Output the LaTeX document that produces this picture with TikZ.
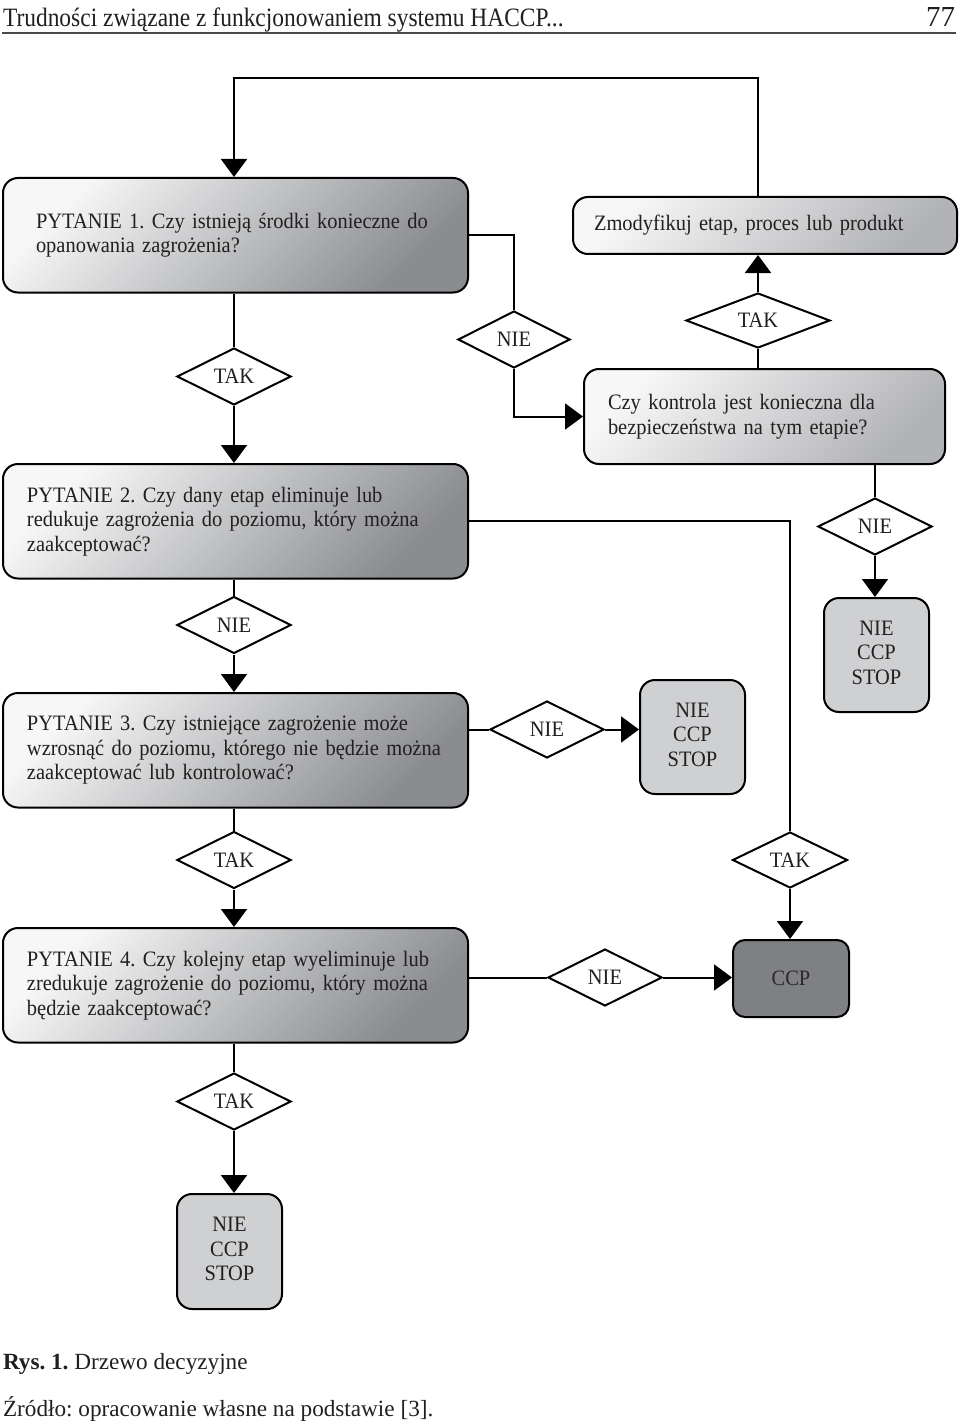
\documentclass[tikz,border=0pt]{standalone}
\usepackage{fontspec}
\setmainfont{Liberation Serif}
\newfontfamily\boxfont[FakeStretch=0.93]{Liberation Serif}
\newfontfamily\hdrfont[FakeStretch=0.885]{Liberation Serif}
\usetikzlibrary{shapes.geometric,arrows.meta}
\definecolor{plight}{HTML}{F7F7F7}
\definecolor{pdark}{HTML}{8A8C90}
\definecolor{klight}{HTML}{F7F7F7}
\definecolor{kdark}{HTML}{B2B3B6}
\definecolor{stopfill}{HTML}{CFD0D2}
\definecolor{ccpfill}{HTML}{7F8083}
\definecolor{ccptext}{HTML}{2A2A2A}
\definecolor{txt}{HTML}{231F20}
\definecolor{rulec}{HTML}{4A4A4A}
\newcommand{\stoptext}[1]{\raisebox{#1}{\begin{tabular}{@{}c@{}}NIE\\CCP\\STOP\end{tabular}}}
\begin{document}
\frenchspacing
\begin{tikzpicture}[x=1pt,y=-1pt,
  line width=2pt,
  every node/.style={font=\boxfont\fontsize{22}{24.5}\selectfont\frenchspacing, text=txt},
  qbox/.style={draw, rounded corners=15pt, align=left, minimum height=114.5pt,
    text width=417pt, inner xsep=24pt, inner ysep=0pt, anchor=north west,
    top color=plight, bottom color=pdark, shading angle=45},
  kbox/.style={draw, rounded corners=15pt, align=left, inner ysep=0pt, anchor=north west,
    top color=klight, bottom color=kdark, shading angle=45},
  stopbox/.style={draw, rounded corners=15pt, fill=stopfill, align=center,
    minimum width=105pt, minimum height=114pt, inner sep=0pt, anchor=north west},
  ccpbox/.style={draw, rounded corners=12pt, fill=ccpfill, text=ccptext,
    minimum width=116pt, minimum height=77pt, inner sep=0pt, anchor=north west},
  dia/.style={draw, diamond, aspect=2, inner sep=0pt, fill=white,
    minimum width=114pt, minimum height=57pt},
  arr/.style={-{Triangle[width=26pt,length=18pt]}}
]
\useasboundingbox (0,0) rectangle (960,1423);
\fill[white] (0,0) rectangle (960,1423);

% header
\node[anchor=base west, inner sep=0pt, font=\hdrfont\fontsize{26.5}{30}\selectfont] (hdr) at (2,27)
  {Trudności związane z funkcjonowaniem systemu HACCP...};
\node[anchor=base east, inner sep=0pt, font=\rmfamily\fontsize{29}{30}\selectfont] (pg) at (956,27) {77};
\draw[rulec, line width=2pt] (2,33.5) -- (956,33.5);

% boxes
\node[qbox, text width=399pt, inner xsep=33pt] (P1) at (2,177)
  {\mbox{PYTANIE 1. Czy istnieją środki konieczne do}\\opanowania zagrożenia?};
\node[kbox, minimum width=384pt, minimum height=57pt, text width=342pt, inner xsep=21pt] (Z) at (572,196)
  {\raisebox{-2.5pt}{Zmodyfikuj etap, proces lub produkt}};
\node[kbox, minimum width=361pt, minimum height=95pt, text width=313pt, inner xsep=24pt] (K) at (583,368)
  {Czy kontrola jest konieczna dla\\bezpieczeństwa na tym etapie?};
\node[qbox] (P2) at (2,463)
  {PYTANIE 2. Czy dany etap eliminuje lub\\\mbox{redukuje zagrożenia do poziomu, który można}\\zaakceptować?};
\node[qbox] (P3) at (2,692)
  {PYTANIE 3. Czy istniejące zagrożenie może\\\mbox{wzrosnąć do poziomu, którego nie będzie można}\\zaakceptować lub kontrolować?};
\node[qbox] (P4) at (2,927)
  {PYTANIE 4. Czy kolejny etap wyeliminuje lub\\\mbox{zredukuje zagrożenie do poziomu, który można}\\będzie zaakceptować?};
\node[stopbox] (S1) at (823,597) {\stoptext{7.5pt}};
\node[stopbox] (S2) at (639,679) {\stoptext{7pt}};
\node[stopbox, minimum height=115pt] (S3) at (176,1193) {\stoptext{2.5pt}};
\node[ccpbox] (C) at (732,939) {CCP};

% diamonds
\node[dia, minimum width=112pt] (N1) at (514,339.5) {NIE};
\node[dia, minimum width=144pt, minimum height=55pt] (T1) at (758,320.5) {TAK};
\node[dia] (N2) at (875,526.5) {NIE};
\node[dia] (T2) at (234,376.5) {TAK};
\node[dia] (N3) at (234,625) {NIE};
\node[dia] (T4) at (234,860) {TAK};
\node[dia] (T5) at (234,1101.5) {TAK};
\node[dia, minimum width=115pt, minimum height=56pt] (T3) at (790,860) {TAK};
\node[dia] (N4) at (547,729.5) {NIE};
\node[dia] (N5) at (605,977.5) {NIE};

\coordinate (cx) at (758,78);

% connectors
\draw[arr] (Z.north -| cx) |- (cx -| T2.north) -- (P1.north -| T2.north);
\draw (P1.east) -| (N1.north);
\draw[arr] (N1.south) |- (K.west);
\draw (K.north -| T1.south) -- (T1.south);
\draw[arr] (T1.north) -- (Z.south -| T1.north);
\draw (K.south -| N2.north) -- (N2.north);
\draw[arr] (N2.south) -- (S1.north -| N2.south);
\draw (P1.south -| T2.north) -- (T2.north);
\draw[arr] (T2.south) -- (P2.north -| T2.south);
\draw (P2.east) -| (T3.north);
\draw[arr] (T3.south) -- (C.north -| T3.south);
\draw (P2.south -| N3.north) -- (N3.north);
\draw[arr] (N3.south) -- (P3.north -| N3.south);
\draw (P3.east |- N4.west) -- (N4.west);
\draw[arr] (N4.east) -- (S2.west |- N4.east);
\draw (P3.south -| T4.north) -- (T4.north);
\draw[arr] (T4.south) -- (P4.north -| T4.south);
\draw (P4.east |- N5.west) -- (N5.west);
\draw[arr] (N5.east) -- (C.west |- N5.east);
\draw (P4.south -| T5.north) -- (T5.north);
\draw[arr] (T5.south) -- (S3.north -| T5.south);

% caption
\node[anchor=base west, inner sep=0pt, font=\rmfamily\fontsize{23.2}{28}\selectfont] (cap) at (2,1369)
  {\textbf{Rys. 1.} Drzewo decyzyjne};
\node[anchor=base west, inner sep=0pt, font=\rmfamily\fontsize{23.2}{28}\selectfont] (src) at (2,1416)
  {Źródło: opracowanie własne na podstawie [3].};
\end{tikzpicture}
\end{document}
